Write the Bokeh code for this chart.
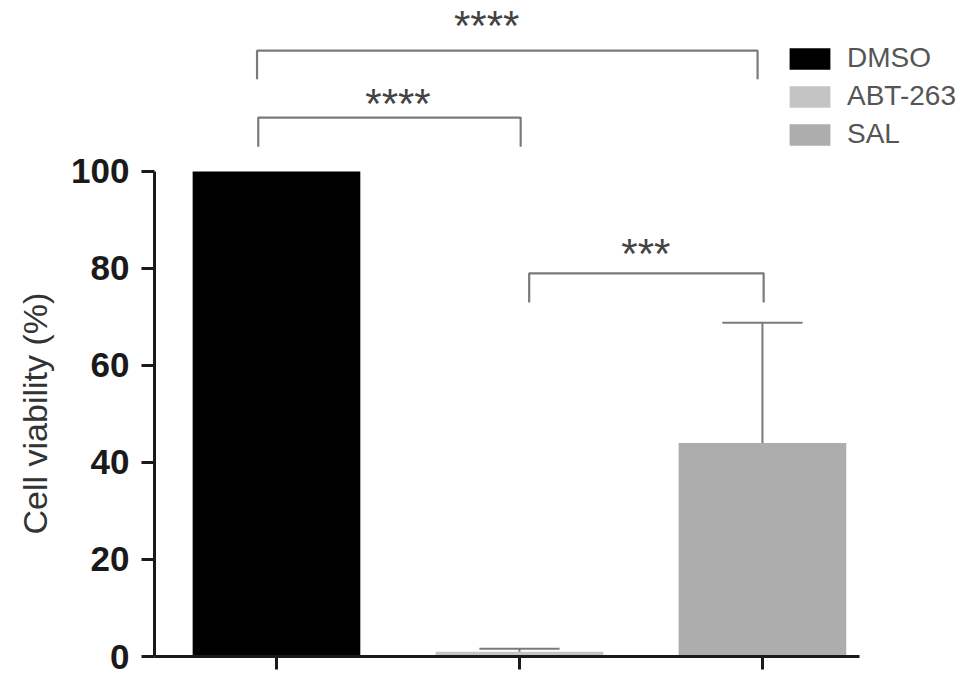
from bokeh.plotting import figure
from bokeh.models import Range1d, FixedTicker, Legend, LegendItem, ColumnDataSource, Title
from bokeh.core.properties import value
from bokeh.embed import file_html
from bokeh.resources import INLINE

# ---- data ----
categories = ["DMSO", "ABT-263", "SAL"]
means = [100.0, 1.0, 44.0]
errors = [0.0, 0.6, 24.8]
bar_colors = ["#000000", "#c4c4c4", "#adadad"]
y_ticks = [0, 20, 40, 60, 80, 100]
y_title = "Cell viability (%)"

# significance brackets
br_left = [-0.08, -0.075, 1.04]
br_right = [1.98, 1.005, 2.005]
br_top = [124.9, 111.1, 79.0]
br_bottom = [119.0, 105.1, 73.0]
br_stars = ["****", "****", "***"]
star_x = [0.865, 0.5, 1.52]
star_y = [130.1, 114.1, 83.0]

FONT = "Liberation Sans"
xs = list(range(len(categories)))

p = figure(width=968, height=681, output_backend="svg", toolbar_location=None,
           x_range=Range1d(-0.502, 2.848), y_range=Range1d(0, 133.8),
           min_border_left=154, min_border_right=0, min_border_top=7, min_border_bottom=25)
p.outline_line_color = None
p.xgrid.visible = False
p.ygrid.visible = False
p.background_fill_color = "white"

src = ColumnDataSource(dict(x=xs, top=means, color=bar_colors, label=categories))
bars = p.vbar(x="x", top="top", width=0.69, bottom=0, color="color", source=src, line_color=None)

# error bars (upper only)
ex = [x for x, e in zip(xs, errors) if e > 0]
em = [m for m, e in zip(means, errors) if e > 0]
eu = [m + e for m, e in zip(means, errors) if e > 0]
p.segment(x0=ex, y0=em, x1=ex, y1=eu, line_color="#7a7a7a", line_width=2)
p.segment(x0=[x - 0.165 for x in ex], y0=eu, x1=[x + 0.165 for x in ex], y1=eu,
          line_color="#7a7a7a", line_width=2)

# brackets
for l, r, t, b in zip(br_left, br_right, br_top, br_bottom):
    p.line(x=[l, l, r, r], y=[b, t, t, b], line_color="#7a7a7a", line_width=2.2)
p.text(x=star_x, y=star_y, text=br_stars, text_font=value(FONT), text_font_size="42px",
       text_color="#444444", text_align="center", text_baseline="alphabetic")

# axes
ya = p.yaxis[0]
ya.ticker = FixedTicker(ticks=y_ticks)
ya.bounds = (0, 100)
ya.axis_line_width = 3
ya.axis_line_color = "#1a1a1a"
ya.major_tick_line_width = 3
ya.major_tick_line_color = "#1a1a1a"
ya.major_tick_out = 13
ya.major_tick_in = 0
ya.minor_tick_line_color = None
ya.major_label_standoff = 12
ya.major_label_text_font = FONT
ya.major_label_text_font_size = "35px"
ya.major_label_text_font_style = "bold"
ya.major_label_text_color = "#1a1a1a"

# y-axis title, placed along the bounded part of the axis
p.add_layout(Title(text=y_title, align="left", offset=122, standoff=28,
                   vertical_align="middle",
                   text_font=FONT, text_font_size="34px", text_font_style="normal",
                   text_color="#333333"), "left")

xa = p.xaxis[0]
xa.ticker = FixedTicker(ticks=xs)
xa.bounds = (-0.5, 2.4)
xa.axis_line_width = 3
xa.axis_line_color = "#1a1a1a"
xa.major_tick_line_width = 3
xa.major_tick_line_color = "#1a1a1a"
xa.major_tick_out = 13
xa.major_tick_in = 0
xa.minor_tick_line_color = None
xa.major_label_text_font_size = "8px"
xa.major_label_text_color = None
xa.major_label_standoff = 0

legend = Legend(items=[LegendItem(label=c, renderers=[bars], index=i) for i, c in enumerate(categories)],
                location=(630, 505), orientation="vertical",
                glyph_width=51, glyph_height=27, label_height=34, spacing=4,
                label_standoff=12, padding=0, margin=0,
                label_text_font=FONT, label_text_font_size="28px", label_text_color="#555555",
                border_line_color=None, background_fill_alpha=0)
p.add_layout(legend)

open("out.html", "w").write(file_html(p, INLINE))
